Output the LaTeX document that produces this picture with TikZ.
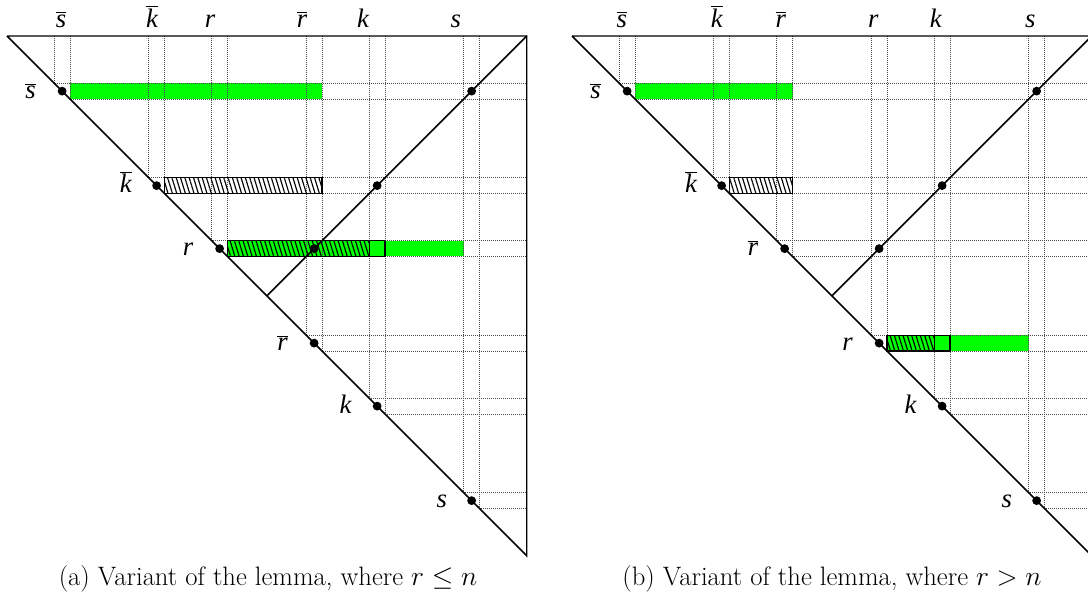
\documentclass[tikz,border=0pt]{standalone}
\usepackage{fontspec}
\newfontfamily\lblfont{Liberation Serif}
\usetikzlibrary{patterns.meta}
\definecolor{brightgreen}{RGB}{0,255,0}
\newcommand\lb[1]{#1}
\newcommand\ob[1]{$\overline{\mbox{#1}}$}
\tikzset{
 mainline/.style={line width=1.1pt, draw=black},
 gridline/.style={line width=0.55pt, draw=gray!60!black, dash pattern=on 0.8pt off 0.7pt},
 greenbar/.style={fill=brightgreen, draw=none},
 hatchbar/.style={draw=black, line width=1.1pt, pattern={Lines[angle=-73,distance=3.1pt,line width=0.85pt]}},
 boxed/.style={draw=black, line width=1.1pt},
 dot/.style={circle, fill=black, inner sep=0pt, minimum size=6.6pt},
 lbl/.style={anchor=base, inner sep=0pt, font=\lblfont\itshape\fontsize{20}{24}\selectfont},
 capt/.style={anchor=base, inner sep=0pt, font=\fontsize{20}{24}\selectfont},
 panel/.style={x=11.8125pt, y=-11.8125pt}
}
\begin{document}
\begin{tikzpicture}[x=0.75pt, y=-0.75pt]
\clip (0,0) rectangle (1088,605);
\fill[white] (0,0) rectangle (1088,605);
% ---------------- panel (a) ----------------
\begin{scope}[xshift=5.25pt, yshift=-27pt, panel]
 \coordinate (a-tl) at (0,0);
 \coordinate (a-tr) at (33,0);
 \coordinate (a-br) at (33,33);
 \coordinate (a-mid) at (16.5,16.5);
 % bars: fills
 \fill[greenbar] (4,3) rectangle (20,4);
 \fill[greenbar] (14,13) rectangle (29,14);
 % grid
 \foreach \c in {3,4,9,10,13,14,19,20,23,24,29,30}
   \draw[gridline] (\c,0) -- (\c,\c) -- (33,\c);
 % hatched / boxed parts
 \draw[hatchbar] (10,9) rectangle (20,10);
 \draw[hatchbar] (14,13) rectangle (23,14);
 \draw[boxed] (23,13) rectangle (24,14);
 % main lines
 \draw[mainline] (a-tl) -- (a-tr) -- (a-br) -- (a-tl);
 \draw[mainline] (a-tr) -- (a-mid);
 % dots
 \foreach \c/\n in {3/sb,9/kb,13/r,19/rb,23/k,29/s}
   \node[dot] (a-d\n) at (\c+0.5,\c+0.5) {};
 \foreach \c/\n in {3/sb,9/kb,13/r}
   \node[dot] (a-e\n) at (32.5-\c,\c+0.5) {};
 % top labels
 \node[lbl] (a-t1) at (3.43,-0.57) {\ob{s}};
 \node[lbl] (a-t2) at (9.21,-0.57) {\ob{k}};
 \node[lbl] (a-t3) at (12.89,-0.57) {\lb{r}};
 \node[lbl] (a-t4) at (18.73,-0.57) {\ob{r}};
 \node[lbl] (a-t5) at (22.6,-0.57) {\lb{k}};
 \node[lbl] (a-t6) at (28.5,-0.57) {\lb{s}};
 % left labels
 \node[lbl] (a-l1) at (1.5,3.95) {\ob{s}};
 \node[lbl] (a-l2) at (7.55,9.95) {\ob{k}};
 \node[lbl] (a-l3) at (11.5,13.95) {\lb{r}};
 \node[lbl] (a-l4) at (17.5,19.95) {\ob{r}};
 \node[lbl] (a-l5) at (21.5,23.95) {\lb{k}};
 \node[lbl] (a-l6) at (27.6,29.95) {\lb{s}};
\end{scope}
% ---------------- panel (b) ----------------
\begin{scope}[xshift=429pt, yshift=-27pt, panel]
 \coordinate (b-tl) at (0,0);
 \coordinate (b-tr) at (33,0);
 \coordinate (b-br) at (33,33);
 \coordinate (b-mid) at (16.5,16.5);
 \fill[greenbar] (4,3) rectangle (14,4);
 \fill[greenbar] (20,19) rectangle (29,20);
 \foreach \c in {3,4,9,10,13,14,19,20,23,24,29,30}
   \draw[gridline] (\c,0) -- (\c,\c) -- (33,\c);
 \draw[hatchbar] (10,9) rectangle (14,10);
 \draw[hatchbar] (20,19) rectangle (23,20);
 \draw[boxed] (23,19) rectangle (24,20);
 \draw[mainline] (b-tl) -- (b-tr) -- (b-br) -- (b-tl);
 \draw[mainline] (b-tr) -- (b-mid);
 \foreach \c/\n in {3/sb,9/kb,13/rb,19/r,23/k,29/s}
   \node[dot] (b-d\n) at (\c+0.5,\c+0.5) {};
 \foreach \c/\n in {3/sb,9/kb,13/rb}
   \node[dot] (b-e\n) at (32.5-\c,\c+0.5) {};
 \node[lbl] (b-t1) at (3.16,-0.57) {\ob{s}};
 \node[lbl] (b-t2) at (9.19,-0.57) {\ob{k}};
 \node[lbl] (b-t3) at (13.25,-0.57) {\ob{r}};
 \node[lbl] (b-t4) at (19.13,-0.57) {\lb{r}};
 \node[lbl] (b-t5) at (23.1,-0.57) {\lb{k}};
 \node[lbl] (b-t6) at (29.1,-0.57) {\lb{s}};
 \node[lbl] (b-l1) at (1.5,3.95) {\ob{s}};
 \node[lbl] (b-l2) at (7.55,9.95) {\ob{k}};
 \node[lbl] (b-l3) at (11.5,13.95) {\ob{r}};
 \node[lbl] (b-l4) at (17.5,19.95) {\lb{r}};
 \node[lbl] (b-l5) at (21.5,23.95) {\lb{k}};
 \node[lbl] (b-l6) at (27.6,29.95) {\lb{s}};
\end{scope}
% captions
\node[capt] (capa) at (268,585) {(a) Variant of the lemma, where $r \leq n$};
\node[capt] (capb) at (832,585) {(b) Variant of the lemma, where $r > n$};
\end{tikzpicture}
\end{document}
